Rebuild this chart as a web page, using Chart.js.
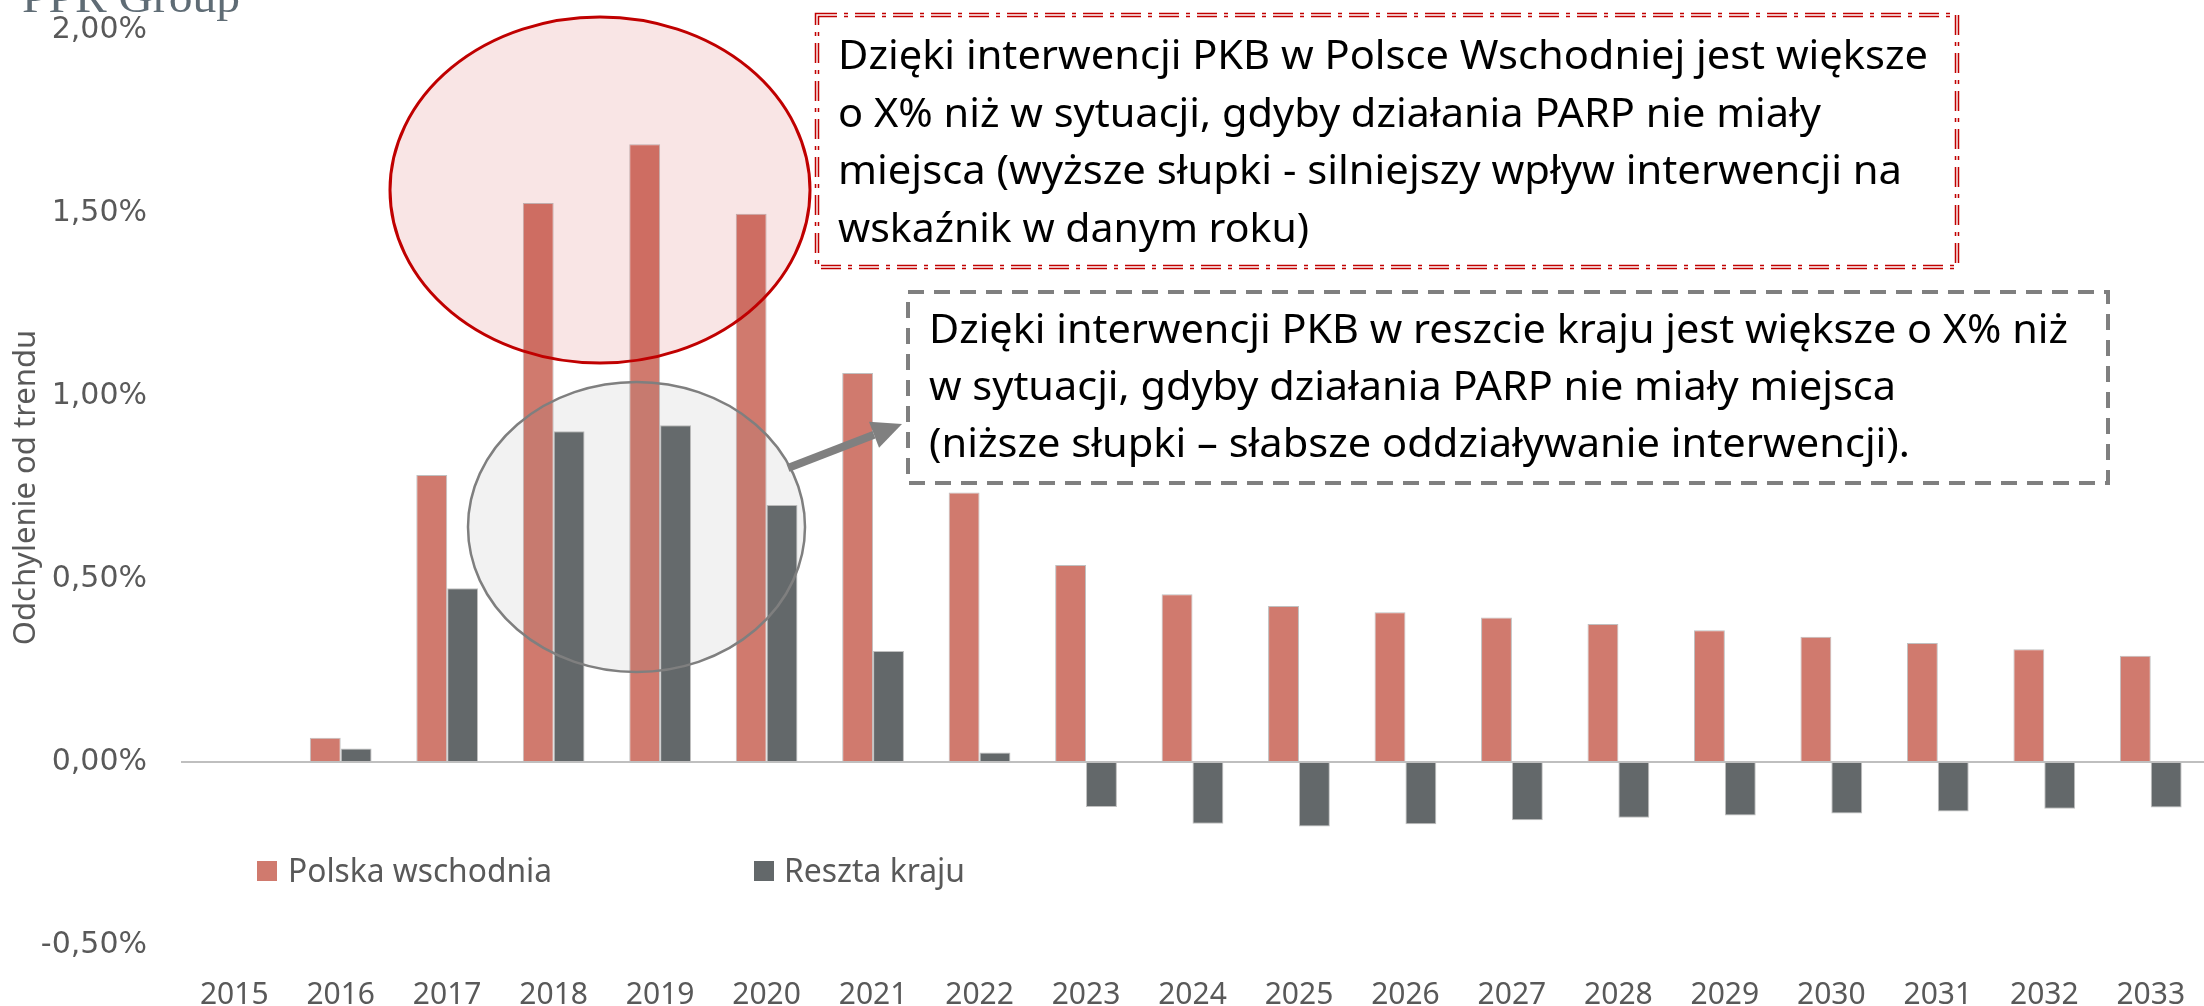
<!DOCTYPE html>
<html>
<head>
<meta charset="utf-8">
<script src="https://cdn.jsdelivr.net/npm/chart.js@4.4.1/dist/chart.umd.min.js"></script>
<style>
  html, body { margin: 0; padding: 0; background: #fff; }
  #wrap { width: 2204px; height: 1006px; }
</style>
</head>
<body>
<div id="wrap"><canvas id="chart" width="2204" height="1006"></canvas></div>
<script>
// ── Data ────────────────────────────────────────────────────────────────
const years = ['2015', '2016', '2017', '2018', '2019', '2020', '2021', '2022', '2023', '2024',
               '2025', '2026', '2027', '2028', '2029', '2030', '2031', '2032', '2033'];
const eastValues = [0, 0.066, 0.784, 1.527, 1.688, 1.498, 1.063, 0.736, 0.538, 0.458,
                    0.426, 0.409, 0.395, 0.377, 0.360, 0.342, 0.325, 0.308, 0.290];
const restValues = [0, 0.037, 0.475, 0.904, 0.920, 0.702, 0.303, 0.026, -0.123, -0.169,
                    -0.176, -0.170, -0.159, -0.152, -0.146, -0.141, -0.135, -0.128, -0.124];
const seriesNames = ['Polska wschodnia', 'Reszta kraju'];
const axisTitle = 'Odchylenie od trendu';
const logoText = 'PPR Group';
const noteEast = [
  'Dzięki interwencji PKB w Polsce Wschodniej jest większe',
  'o X% niż w sytuacji, gdyby działania PARP nie miały',
  'miejsca (wyższe słupki - silniejszy wpływ interwencji na',
  'wskaźnik w danym roku)',
];
const noteRest = [
  'Dzięki interwencji PKB w reszcie kraju jest większe o X% niż',
  'w sytuacji, gdyby działania PARP nie miały miejsca',
  '(niższe słupki – słabsze oddziaływanie interwencji).',
];

// ── Styles / layout ─────────────────────────────────────────────────────
const RED  = '#D07A6E';
const GREY = '#63686A';
const TEXT = '#595959';

const layoutEast = { box: [817, 15, 1957, 267], x: 838, y0: 69, step: 57.7, widths: [1090, 983, 1064, 471] };
const layoutRest = { box: [908, 292, 2108, 483], x: 929, y0: 343, step: 57, widths: [1139, 967, 981] };

function fitText(ctx, text, x, y, width) {
  const w = ctx.measureText(text).width;
  ctx.save();
  ctx.translate(x, y);
  ctx.scale(width / w, 1);
  ctx.fillText(text, 0, 0);
  ctx.restore();
}

function ellipse(ctx, cx, cy, rx, ry, fill, stroke, lw) {
  ctx.beginPath();
  ctx.ellipse(cx, cy, rx, ry, 0, 0, Math.PI * 2);
  ctx.fillStyle = fill;
  ctx.fill();
  ctx.lineWidth = lw;
  ctx.strokeStyle = stroke;
  ctx.stroke();
}

const overlays = {
  id: 'overlays',
  afterDatasetsDraw(chart) {
    const ctx = chart.ctx;
    ctx.save();

    // highlight ellipses
    ellipse(ctx, 600, 190, 210, 173, 'rgba(192,0,0,0.1)', '#C00000', 3);
    ellipse(ctx, 636.5, 527, 168.5, 145, 'rgba(127,127,127,0.1)', '#7F7F7F', 2.5);

    // arrow
    const x1 = 788, y1 = 468, x2 = 902, y2 = 424;
    const ang = Math.atan2(y2 - y1, x2 - x1);
    const head = 30, half = 14;
    const bx = x2 - head * Math.cos(ang), by = y2 - head * Math.sin(ang);
    ctx.strokeStyle = '#808080';
    ctx.lineWidth = 8;
    ctx.lineCap = 'butt';
    ctx.beginPath(); ctx.moveTo(x1, y1); ctx.lineTo(bx, by); ctx.stroke();
    ctx.fillStyle = '#808080';
    ctx.beginPath();
    ctx.moveTo(x2, y2);
    ctx.lineTo(bx + half * Math.sin(ang), by - half * Math.cos(ang));
    ctx.lineTo(bx - half * Math.sin(ang), by + half * Math.cos(ang));
    ctx.closePath();
    ctx.fill();

    // red dash-dot double-line box
    let [l, t, r, b] = layoutEast.box;
    ctx.setLineDash([20, 7, 4, 7]);
    ctx.strokeStyle = '#C00000';
    ctx.lineWidth = 4.5;
    ctx.strokeRect(l, t, r - l, b - t);
    ctx.strokeStyle = '#fff';
    ctx.lineWidth = 1.4;
    ctx.strokeRect(l, t, r - l, b - t);

    // grey dashed box
    [l, t, r, b] = layoutRest.box;
    ctx.setLineDash([16, 10]);
    ctx.strokeStyle = '#7F7F7F';
    ctx.lineWidth = 4;
    ctx.strokeRect(l, t, r - l, b - t);
    ctx.setLineDash([]);

    // note texts
    ctx.fillStyle = '#000';
    ctx.font = '40px "Noto Sans"';
    ctx.textBaseline = 'alphabetic';
    ctx.textAlign = 'left';
    noteEast.forEach((s, i) => fitText(ctx, s, layoutEast.x, layoutEast.y0 + i * layoutEast.step, layoutEast.widths[i]));
    noteRest.forEach((s, i) => fitText(ctx, s, layoutRest.x, layoutRest.y0 + i * layoutRest.step, layoutRest.widths[i]));

    // legend (inside plot)
    const legendPos = [[257, 861, 288, 264], [754, 861, 784, 181]];
    ctx.font = '32px "Noto Sans"';
    chart.data.datasets.forEach((ds, i) => {
      const [sx, sy, tx, tw] = legendPos[i];
      ctx.fillStyle = ds.backgroundColor;
      ctx.fillRect(sx, sy, 20, 20);
      ctx.fillStyle = TEXT;
      fitText(ctx, ds.label, tx, 882, tw);
    });

    // clipped logo at top-left
    ctx.fillStyle = '#5F6C75';
    ctx.font = '44px "Liberation Serif"';
    fitText(ctx, logoText, 22, 12, 218);

    ctx.restore();
  },
};

new Chart(document.getElementById('chart'), {
  type: 'bar',
  data: {
    labels: years,
    datasets: [
      { label: seriesNames[0], data: eastValues, backgroundColor: RED,
        borderColor: 'rgba(185,185,185,0.9)', borderWidth: 1 },
      { label: seriesNames[1], data: restValues, backgroundColor: GREY,
        borderColor: 'rgba(185,185,185,0.9)', borderWidth: 1 },
    ],
  },
  options: {
    responsive: false,
    animation: false,
    devicePixelRatio: 1,
    layout: { padding: { top: 30, right: -5, bottom: 0, left: 0 } },
    datasets: { bar: { categoryPercentage: 0.58, barPercentage: 1.0 } },
    plugins: { legend: { display: false }, tooltip: { enabled: false } },
    scales: {
      x: {
        grid: { display: false, drawTicks: false },
        border: { display: false },
        ticks: { color: TEXT, font: { family: 'Noto Sans', size: 30 }, padding: 32,
                 maxRotation: 0, autoSkip: false },
        afterFit: (s) => { s.height = 61; s.paddingLeft = 0; s.paddingRight = 0; },
      },
      y: {
        min: -0.5,
        max: 2.0,
        grid: {
          drawTicks: false,
          color: (c) => (c.tick && c.tick.value === 0 ? '#BFBFBF' : 'rgba(0,0,0,0)'),
          lineWidth: (c) => (c.tick && c.tick.value === 0 ? 2 : 0),
        },
        border: { display: false },
        ticks: {
          stepSize: 0.5,
          color: TEXT,
          padding: 34,
          font: { family: 'DejaVu Sans', size: 30 },
          callback: (v) => v.toFixed(2).replace('.', ',') + '%',
        },
        title: {
          display: true,
          text: axisTitle,
          color: TEXT,
          font: { family: 'Noto Sans', size: 31 },
          padding: { top: 8, bottom: 0 },
        },
        afterFit: (s) => { s.width = 181; s.paddingTop = 0; s.paddingBottom = 0; },
      },
    },
  },
  plugins: [overlays],
});
</script>
</body>
</html>
